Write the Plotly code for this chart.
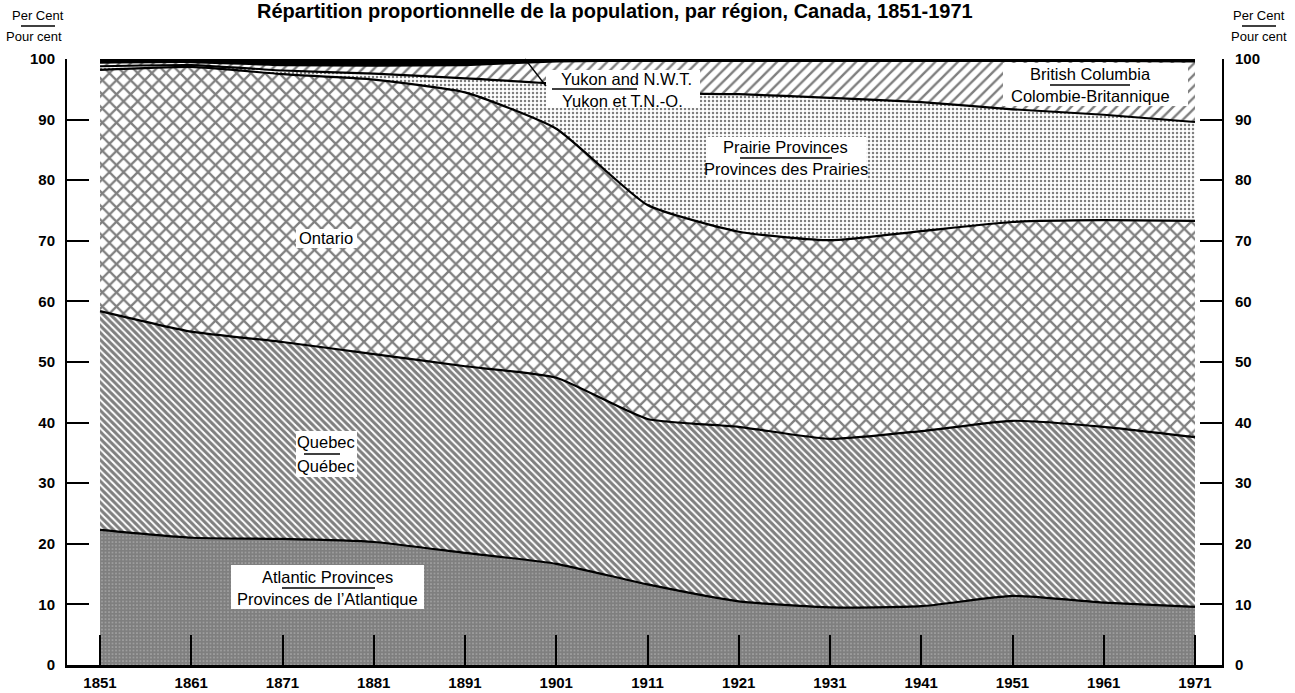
import plotly.graph_objects as go

# ---------------- data (per cent of Canada's population) ----------------
years = [1851, 1861, 1871, 1881, 1891, 1901, 1911, 1921, 1931, 1941, 1951, 1961, 1971]
atlantic = [22.3, 21.0, 20.8, 20.3, 18.5, 16.7, 13.3, 10.5, 9.5, 9.7, 11.4, 10.3, 9.6]
quebec = [36.1, 34.0, 32.5, 31.0, 30.8, 30.7, 27.3, 28.8, 27.8, 28.9, 28.9, 29.0, 28.0]
ontario = [39.8, 43.7, 44.2, 45.3, 45.2, 41.1, 35.3, 32.2, 32.8, 33.0, 32.8, 34.1, 35.7]
prairies = [0.6, 0.3, 0.6, 1.0, 2.3, 7.4, 18.5, 22.7, 23.5, 21.3, 18.6, 17.4, 16.3]
british_columbia = [0.6, 0.5, 0.9, 1.3, 2.2, 3.7, 5.3, 5.5, 6.1, 6.8, 8.0, 8.9, 10.0]
territories = [0.6, 0.5, 1.0, 1.2, 1.0, 0.4, 0.3, 0.3, 0.3, 0.3, 0.3, 0.3, 0.4]
pct_ticks = list(range(0, 101, 10))

title_text = "Répartition proportionnelle de la population, par région, Canada, 1851-1971"

# ---------------- geometry helpers (layout only) ----------------
W, H = 1295, 693
PL, PR, PT, PB = 67, 1222, 59, 665  # plot area in window pixels


def px(x):
    return (x - PL) / (PR - PL)


def py(y):
    return (PB - y) / (PB - PT)


FONT = "Liberation Sans, Arial, sans-serif"

fig = go.Figure()

series = [
    ("Atlantic", atlantic, dict(shape=".", size=3.5, solidity=0.85, fgcolor="black", bgcolor="white"), None),
    ("Quebec", quebec, dict(shape="\\", size=5, solidity=0.6, fgcolor="black", bgcolor="white"), None),
    ("Ontario", ontario, dict(shape="x", size=10, solidity=0.4, fgcolor="black", bgcolor="white"), None),
    ("Prairies", prairies, dict(shape=".", size=4, solidity=0.3, fgcolor="black", bgcolor="white"), None),
    ("British Columbia", british_columbia, dict(shape="/", size=8, solidity=0.3, fgcolor="black", bgcolor="white"), None),
    ("Territories", territories, None, "black"),
]

for name, vals, pattern, fc in series:
    kw = dict(
        x=years, y=vals, name=name, stackgroup="one", mode="lines",
        line=dict(color="black", width=2.2, shape="spline", smoothing=0.5),
        hoverinfo="skip", showlegend=False,
    )
    if pattern is not None:
        kw["fillpattern"] = pattern
        kw["fillcolor"] = "white"
    else:
        kw["fillcolor"] = fc
    fig.add_trace(go.Scatter(**kw))

# invisible trace to anchor the right axis
fig.add_trace(go.Scatter(x=[years[0]], y=[0], yaxis="y2", mode="lines",
                         line=dict(width=0), hoverinfo="skip", showlegend=False))

axis_font = dict(family=FONT, size=15, color="black", weight="bold")
yax = dict(range=[0, 100], tickvals=pct_ticks, ticks="inside", ticklen=22, tickwidth=2,
           tickcolor="black", showline=True, linewidth=2, linecolor="black",
           showgrid=False, zeroline=False, tickfont=axis_font, fixedrange=True)

fig.update_layout(
    width=W, height=H,
    margin=dict(l=PL, r=W - PR, t=PT, b=H - PB, pad=0),
    paper_bgcolor="white", plot_bgcolor="white",
    xaxis=dict(range=[1847.38, 1973.96], tickvals=years, ticks="inside", ticklen=30,
               tickwidth=2, tickcolor="black", showline=True, linewidth=2.5,
               linecolor="black", showgrid=False, zeroline=False, tickfont=axis_font,
               ticklabelstandoff=2, automargin=False),
    yaxis=dict(**yax, side="left", ticklabelstandoff=7, automargin=False),
    yaxis2=dict(**yax, side="right", overlaying="y", ticklabelstandoff=8, automargin=False),
)

annotations = []
shapes = []


def text(xp, yp, s, size=16.5, bold=False):
    if bold:
        s = "<b>" + s + "</b>"
    annotations.append(dict(x=px(xp), y=py(yp), xref="paper", yref="paper", text=s,
                            showarrow=False, xanchor="center", yanchor="middle",
                            font=dict(family=FONT, size=size, color="black")))


def box(x0, y0, x1, y1):
    shapes.append(dict(type="rect", xref="paper", yref="paper", x0=px(x0), x1=px(x1),
                       y0=py(y1), y1=py(y0), fillcolor="white", line=dict(width=0),
                       layer="above"))


def rule(x0, x1, y, w=1.5):
    shapes.append(dict(type="line", xref="paper", yref="paper", x0=px(x0), x1=px(x1),
                       y0=py(y), y1=py(y), line=dict(color="black", width=w), layer="above"))


# title
text(615, 11, title_text, size=20, bold=True)

# axis headers
for cx, cx2 in ((38, 34), (1259, 1259)):
    text(cx, 15, "Per Cent", size=13)
    rule(cx - 17, cx + 17, 26)
    text(cx2, 37, "Pour cent", size=13)

# region labels
box(296, 229, 357, 248)
text(326, 238, "Ontario")

box(296, 431, 357, 477)
text(326, 442, "Quebec")
rule(304, 340, 454)
text(326, 466, "Québec")

box(231, 565, 424, 609)
text(327, 577, "Atlantic Provinces")
rule(282, 375, 588)
text(327, 599, "Provinces de l’Atlantique")

box(706, 137, 866, 179)
text(786, 147, "Prairie Provinces")
rule(740, 832, 158)
text(786, 169, "Provinces des Prairies")

box(546, 70, 700, 108)
text(626, 79, "Yukon and N.W.T.")
rule(552, 637, 89)
text(622, 101, "Yukon et T.N.-O.")
shapes.append(dict(type="line", xref="paper", yref="paper", x0=px(525), y0=py(59),
                   x1=px(546), y1=py(86), line=dict(color="black", width=1.3), layer="above"))

box(1003, 63, 1188, 106)
text(1090, 74, "British Columbia")
rule(1050, 1130, 85)
text(1090, 96, "Colombie-Britannique")

fig.update_layout(annotations=annotations, shapes=shapes)

fig.write_html(
    "out.html",
    config={"displayModeBar": False},
    post_script="document.body.style.margin='0';document.body.style.overflow='hidden';",
)
